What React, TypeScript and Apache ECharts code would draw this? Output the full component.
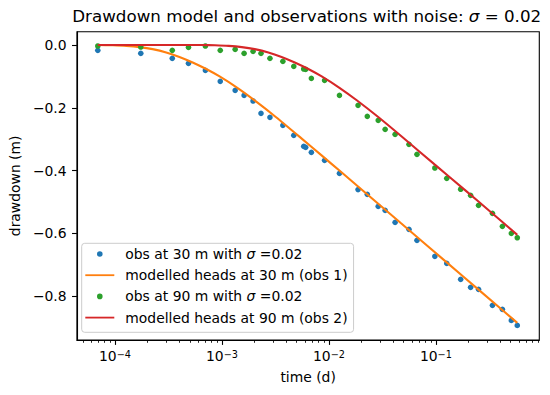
import React, { useEffect, useRef } from "react";
import * as echarts from "echarts";

// ---- data ----
const obsTimes = [
  6.91e-5, 1.743e-4, 3.433e-4, 4.865e-4, 7.0e-4, 9.64e-4, 1.329e-3, 1.611e-3, 1.953e-3,
  2.317e-3, 2.809e-3, 3.709e-3, 4.692e-3, 5.81e-3, 6.06e-3, 6.85e-3, 9.1e-3, 1.254e-2,
  1.871e-2, 2.283e-2, 2.888e-2, 3.353e-2, 4.154e-2, 5.6e-2, 6.65e-2, 9.77e-2, 0.1262,
  0.1703, 0.2109, 0.2502, 0.3375, 0.4181, 0.5067, 0.5759,
];
const obs30 = [
  -0.0169, -0.0265, -0.0424, -0.0583, -0.0806, -0.1157, -0.1444, -0.1603, -0.1785,
  -0.2177, -0.2304, -0.2559, -0.2878, -0.3229, -0.3261, -0.342, -0.3675, -0.4089,
  -0.4606, -0.4759, -0.5141, -0.5268, -0.5651, -0.5874, -0.6225, -0.6735, -0.6958,
  -0.7468, -0.7723, -0.7786, -0.8296, -0.8424, -0.8775, -0.8934,
];
const obs90 = [
  -0.0032, -0.0064, -0.0169, -0.0073, -0.0032, -0.0169, -0.0137, -0.0265, -0.0201,
  -0.0265, -0.0424, -0.052, -0.0679, -0.0765, -0.0775, -0.1061, -0.1125, -0.1603,
  -0.1922, -0.2273, -0.24, -0.2687, -0.2846, -0.3165, -0.3484, -0.392, -0.4249,
  -0.4596, -0.479, -0.5109, -0.5364, -0.5779, -0.6002, -0.6142,
];
const model30Times = [
  6.91e-5, 9.56e-5, 1.281e-4, 1.702e-4, 2.248e-4, 3.013e-4, 4.005e-4, 5.322e-4, 6.98e-4,
  9.42e-4, 1.392e-3, 2.034e-3, 3.208e-3, 5.53e-3, 8.48e-3, 1.301e-2, 2.069e-2, 4.692e-2,
  0.1184, 0.2595, 0.5759,
];
const model30 = [
  0, -0.001, -0.0029, -0.0067, -0.0131, -0.0236, -0.0379, -0.0555, -0.0749, -0.0994,
  -0.1364, -0.1772, -0.2301, -0.2974, -0.3509, -0.4048, -0.4634, -0.5673, -0.6846,
  -0.7844, -0.8854,
];
const model90Times = [
  6.91e-5, 4.252e-4, 6.52e-4, 8.61e-4, 1.154e-3, 1.533e-3, 2.025e-3, 2.714e-3, 3.607e-3,
  4.793e-3, 6.29e-3, 8.48e-3, 1.254e-2, 1.832e-2, 2.888e-2, 5.003e-2, 9.77e-2, 0.1883,
  0.3354, 0.5759,
];
const model90 = [
  0, 0, -0.0002, -0.001, -0.0029, -0.0067, -0.0131, -0.0236, -0.0379, -0.0555, -0.0749,
  -0.0994, -0.1364, -0.1769, -0.2295, -0.2971, -0.3812, -0.4631, -0.5361, -0.6049,
];
const xMajorTicks = [1e-4, 1e-3, 1e-2, 1e-1];
const minorMantissas = [2, 3, 4, 5, 6, 7, 8, 9];
const xMinorTicks = [5e-5, 6e-5, 7e-5, 8e-5, 9e-5]
  .concat(minorMantissas.map((m) => m * 1e-4))
  .concat(minorMantissas.map((m) => m * 1e-3))
  .concat(minorMantissas.map((m) => m * 1e-2))
  .concat(minorMantissas.map((m) => m * 1e-1));
const yTicks = [-0.8, -0.6, -0.4, -0.2, 0];
const seriesNames = [
  "obs at 30 m with σ =0.02",
  "modelled heads at 30 m (obs 1)",
  "obs at 90 m with σ =0.02",
  "modelled heads at 90 m (obs 2)",
];

const FONT = "DejaVu Sans";
const FS = 13.9;
const X_MIN = 4.41e-5;
const X_MAX = 0.925;
const Y_MIN = -0.94;
const Y_MAX = 0.0424;

const zip = (xs: number[], ys: number[]) => xs.map((x, i) => [x, ys[i]]);
const dotIcon = "path://M0,0M29,14M11.7,7a2.8,2.8 0 1 0 5.6,0a2.8,2.8 0 1 0 -5.6,0Z";
const lineIcon = "path://M0,0M29,14M0,6.1L29,6.1L29,7.9L0,7.9Z";

export default function App() {
  const ref = useRef<HTMLDivElement>(null);
  useEffect(() => {
    if (!ref.current) return;
    const chart = echarts.init(ref.current, undefined, { renderer: "svg" });
    const grid = { left: 74, right: 10.7, top: 31.7, bottom: 55 };
    chart.setOption({
      animation: false,
      backgroundColor: "#ffffff",
      textStyle: { fontFamily: FONT },
      title: {
        text: "Drawdown model and observations with noise: {i|σ} = 0.02",
        left: 306.7,
        top: 16,
        padding: 0,
        textAlign: "center",
        textVerticalAlign: "middle",
        textStyle: {
          fontFamily: FONT,
          fontSize: 16.7,
          fontWeight: "normal",
          color: "#000",
          rich: { i: { fontFamily: FONT, fontSize: 16.7, fontStyle: "italic", color: "#000" } },
        },
      },
      grid: { ...grid, show: true, borderColor: "#000", borderWidth: 1.1, backgroundColor: "transparent" },
      legend: {
        orient: "vertical",
        left: 81.7,
        top: 243.3,
        padding: [3.7, 6, 7.7, 3.6],
        itemWidth: 29,
        itemHeight: 14,
        itemGap: 7.2,
        backgroundColor: "rgba(255,255,255,0.8)",
        borderColor: "#cccccc",
        borderWidth: 1,
        borderRadius: 3,
        data: [
          { name: seriesNames[0], icon: dotIcon },
          { name: seriesNames[1], icon: lineIcon },
          { name: seriesNames[2], icon: dotIcon },
          { name: seriesNames[3], icon: lineIcon },
        ],
        formatter: (name: string) => "{sp|}" + name.replace("σ", "{i|σ}"),
        textStyle: {
          fontFamily: FONT,
          fontSize: FS,
          color: "#000",
          lineHeight: 14,
          rich: {
            sp: { width: 6 },
            i: { fontFamily: FONT, fontSize: FS, fontStyle: "italic", color: "#000" },
          },
        },
      },
      xAxis: [
        {
          type: "log",
          logBase: 10,
          min: X_MIN,
          max: X_MAX,
          name: "time (d)",
          nameLocation: "middle",
          nameGap: 30,
          nameTextStyle: { fontFamily: FONT, fontSize: FS, color: "#000" },
          axisLine: { show: true, onZero: false, lineStyle: { color: "#000", width: 1.1 } },
          axisTick: { show: true, length: 4.9, customValues: xMajorTicks, lineStyle: { color: "#000", width: 1.1 } },
          axisLabel: {
            customValues: xMajorTicks,
            margin: 9,
            formatter: (v: number) => "{b|10}{s|−" + Math.round(-Math.log10(v)) + "}",
            rich: {
              b: { fontFamily: FONT, fontSize: FS, color: "#000", verticalAlign: "bottom", lineHeight: 14 },
              s: {
                fontFamily: FONT,
                fontSize: 9.7,
                color: "#000",
                verticalAlign: "top",
                lineHeight: 10,
                padding: [0, 0, 5.6, 0],
              },
            },
          },
          splitLine: { show: false },
          minorTick: { show: false },
        },
        {
          type: "log",
          logBase: 10,
          min: X_MIN,
          max: X_MAX,
          position: "bottom",
          axisLine: { show: false, onZero: false },
          axisTick: { show: true, length: 2.8, customValues: xMinorTicks, lineStyle: { color: "#000", width: 0.85 } },
          axisLabel: { show: false },
          splitLine: { show: false },
        },
      ],
      yAxis: {
        type: "value",
        min: Y_MIN,
        max: Y_MAX,
        name: "drawdown (m)",
        nameLocation: "middle",
        nameGap: 52,
        nameTextStyle: { fontFamily: FONT, fontSize: FS, color: "#000" },
        axisLine: { show: true, onZero: false, lineStyle: { color: "#000", width: 1.1 } },
        axisTick: { show: true, length: 4.9, customValues: yTicks, lineStyle: { color: "#000", width: 1.1 } },
        axisLabel: {
          customValues: yTicks,
          margin: 10.3,
          fontFamily: FONT,
          fontSize: FS,
          color: "#000",
          formatter: (v: number) => (v < -1e-9 ? "−" : "") + Math.abs(v).toFixed(1),
        },
        splitLine: { show: false },
      },
      series: [
        {
          name: seriesNames[0],
          type: "scatter",
          data: zip(obsTimes, obs30),
          symbol: "circle",
          symbolSize: 5.6,
          itemStyle: { color: "#1f77b4", opacity: 1 },
          z: 2,
        },
        {
          name: seriesNames[1],
          type: "line",
          data: zip(model30Times, model30),
          showSymbol: false,
          symbol: "none",
          smooth: 0.2,
          lineStyle: { color: "#ff7f0e", width: 2.1 },
          itemStyle: { color: "#ff7f0e" },
          z: 3,
        },
        {
          name: seriesNames[2],
          type: "scatter",
          data: zip(obsTimes, obs90),
          symbol: "circle",
          symbolSize: 5.6,
          itemStyle: { color: "#2ca02c", opacity: 1 },
          z: 4,
        },
        {
          name: seriesNames[3],
          type: "line",
          data: zip(model90Times, model90),
          showSymbol: false,
          symbol: "none",
          smooth: 0.2,
          lineStyle: { color: "#d62728", width: 2.1 },
          itemStyle: { color: "#d62728" },
          z: 5,
        },
      ],
    });
    return () => chart.dispose();
  }, []);
  return <div ref={ref} style={{ width: 550, height: 395, position: "absolute", left: 0, top: 0 }} />;
}
